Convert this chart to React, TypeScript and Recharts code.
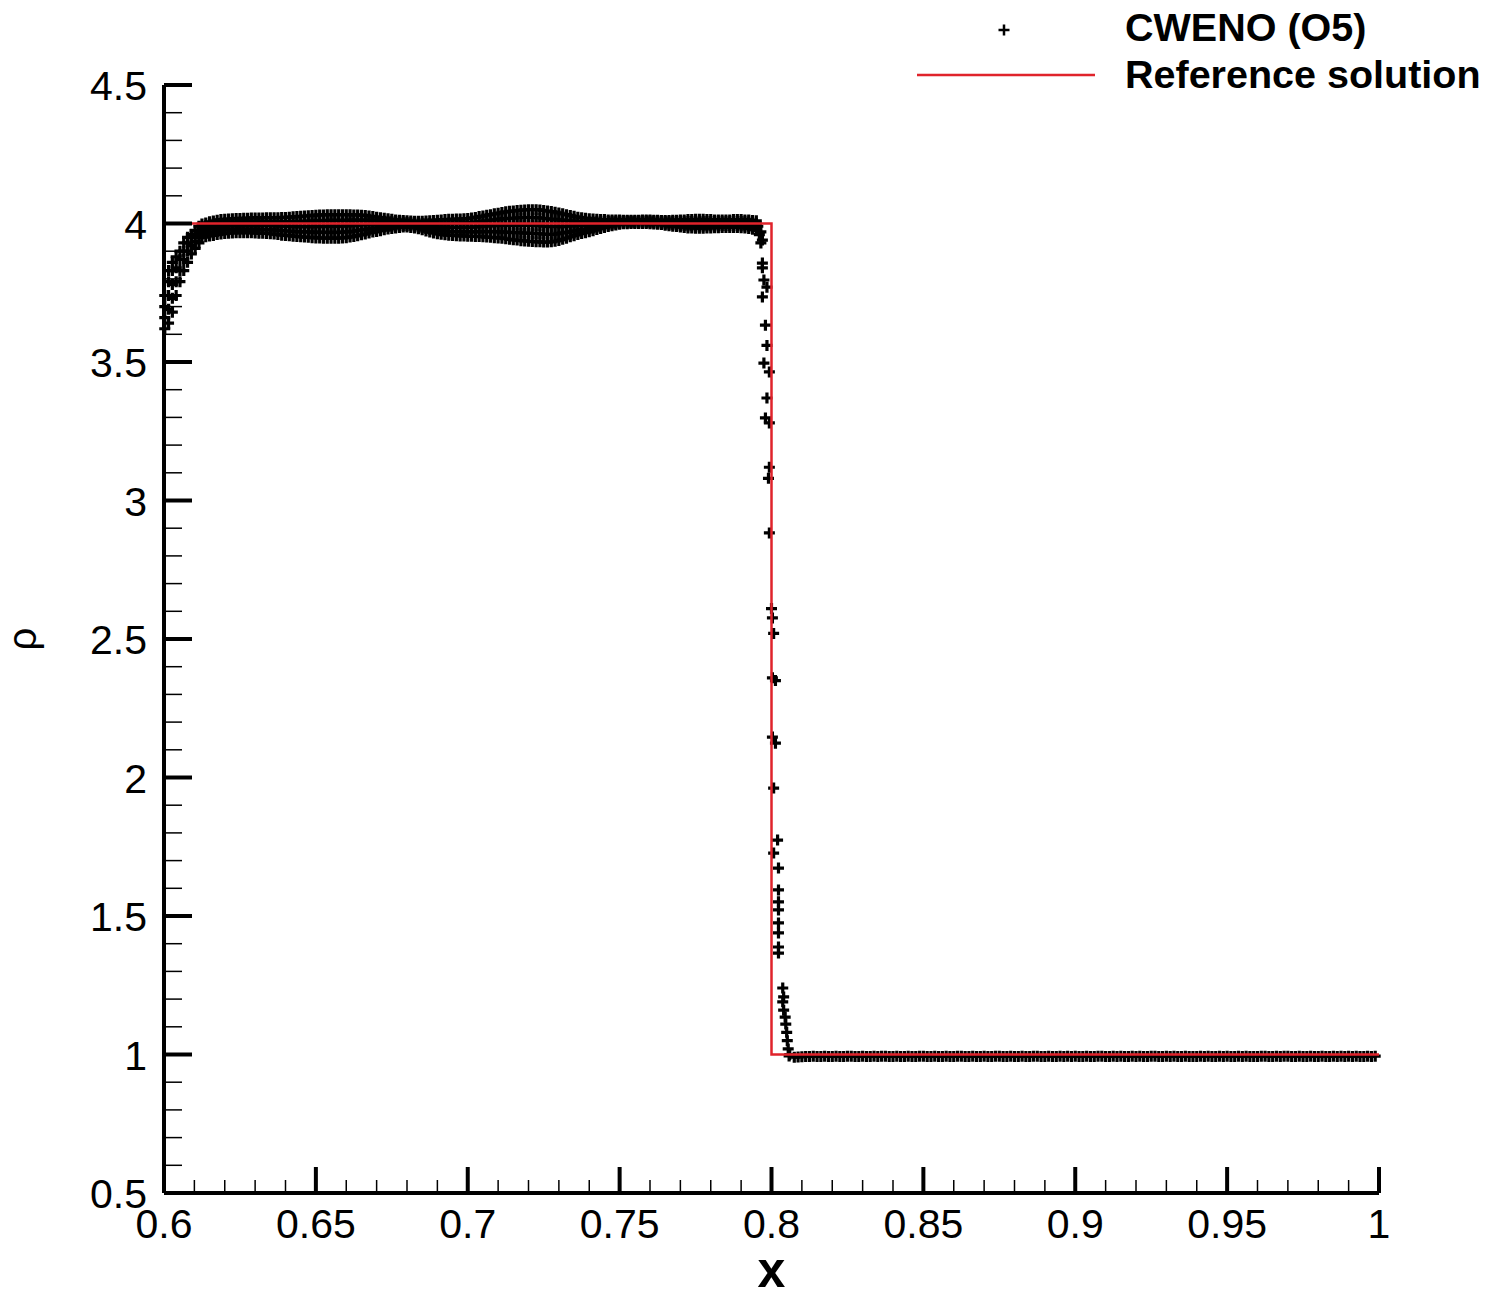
import React from 'react';
import { ScatterChart, Scatter, XAxis, YAxis, Legend } from 'recharts';

const FONT = "'Liberation Sans', Arial, sans-serif";

// axis ticks
const xMajorTicks = [0.6, 0.65, 0.7, 0.75, 0.8, 0.85, 0.9, 0.95, 1];
const xTickLabels = ['0.6', '0.65', '0.7', '0.75', '0.8', '0.85', '0.9', '0.95', '1'];
const xMinorTicks = [
  0.61, 0.62, 0.63, 0.64, 0.66, 0.67, 0.68, 0.69, 0.71, 0.72, 0.73, 0.74, 0.76, 0.77, 0.78, 0.79,
  0.81, 0.82, 0.83, 0.84, 0.86, 0.87, 0.88, 0.89, 0.91, 0.92, 0.93, 0.94, 0.96, 0.97, 0.98, 0.99,
];
const yMajorTicks = [0.5, 1, 1.5, 2, 2.5, 3, 3.5, 4, 4.5];
const yTickLabels = ['0.5', '1', '1.5', '2', '2.5', '3', '3.5', '4', '4.5'];
const yMinorTicks = [
  0.6, 0.7, 0.8, 0.9, 1.1, 1.2, 1.3, 1.4, 1.6, 1.7, 1.8, 1.9, 2.1, 2.2, 2.3, 2.4,
  2.6, 2.7, 2.8, 2.9, 3.1, 3.2, 3.3, 3.4, 3.6, 3.7, 3.8, 3.9, 4.1, 4.2, 4.3, 4.4,
];

// reference solution
const refX = [0.6, 0.8, 0.8, 1];
const refRho = [4, 4, 1, 1];

// CWENO: steep rise at the left boundary
const riseX = [
  0.60025, 0.60025, 0.60025, 0.60025,
  0.6015, 0.6015, 0.6015, 0.6015, 0.6015,
  0.60275, 0.60275, 0.60275, 0.60275, 0.60275,
  0.604, 0.604, 0.604, 0.604,
  0.60525, 0.60525, 0.60525, 0.60525,
  0.6065, 0.6065, 0.6065, 0.6065,
  0.60775, 0.60775, 0.60775, 0.60775,
  0.609, 0.609, 0.609, 0.609,
  0.61025, 0.61025, 0.61025, 0.61025,
  0.6115, 0.6115, 0.6115, 0.6115,
];
const riseRho = [
  3.62, 3.66, 3.70, 3.74,
  3.64, 3.69, 3.74, 3.79, 3.83,
  3.68, 3.73, 3.78, 3.83, 3.86,
  3.74, 3.79, 3.84, 3.88,
  3.79, 3.83, 3.87, 3.90,
  3.83, 3.87, 3.90, 3.93,
  3.86, 3.90, 3.93, 3.95,
  3.89, 3.92, 3.95, 3.96,
  3.91, 3.935, 3.955, 3.975,
  3.93, 3.95, 3.97, 3.99,
];

// CWENO: oscillating plateau, five rows from the top to the bottom of the band
const plateauX = [
  0.6125, 0.61375, 0.615, 0.61625, 0.6175, 0.61875,
  0.62, 0.62125, 0.6225, 0.62375, 0.625, 0.62625, 0.6275, 0.62875,
  0.63, 0.63125, 0.6325, 0.63375, 0.635, 0.63625, 0.6375, 0.63875,
  0.64, 0.64125, 0.6425, 0.64375, 0.645, 0.64625, 0.6475, 0.64875,
  0.65, 0.65125, 0.6525, 0.65375, 0.655, 0.65625, 0.6575, 0.65875,
  0.66, 0.66125, 0.6625, 0.66375, 0.665, 0.66625, 0.6675, 0.66875,
  0.67, 0.67125, 0.6725, 0.67375, 0.675, 0.67625, 0.6775, 0.67875,
  0.68, 0.68125, 0.6825, 0.68375, 0.685, 0.68625, 0.6875, 0.68875,
  0.69, 0.69125, 0.6925, 0.69375, 0.695, 0.69625, 0.6975, 0.69875,
  0.7, 0.70125, 0.7025, 0.70375, 0.705, 0.70625, 0.7075, 0.70875,
  0.71, 0.71125, 0.7125, 0.71375, 0.715, 0.71625, 0.7175, 0.71875,
  0.72, 0.72125, 0.7225, 0.72375, 0.725, 0.72625, 0.7275, 0.72875,
  0.73, 0.73125, 0.7325, 0.73375, 0.735, 0.73625, 0.7375, 0.73875,
  0.74, 0.74125, 0.7425, 0.74375, 0.745, 0.74625, 0.7475, 0.74875,
  0.75, 0.75125, 0.7525, 0.75375, 0.755, 0.75625, 0.7575, 0.75875,
  0.76, 0.76125, 0.7625, 0.76375, 0.765, 0.76625, 0.7675, 0.76875,
  0.77, 0.77125, 0.7725, 0.77375, 0.775, 0.77625, 0.7775, 0.77875,
  0.78, 0.78125, 0.7825, 0.78375, 0.785, 0.78625, 0.7875, 0.78875,
  0.79, 0.79125, 0.7925, 0.79375, 0.795,
];
const plateauHigh = [
  3.998, 4.002, 4.006, 4.009, 4.012, 4.014,
  4.015, 4.016, 4.017, 4.018, 4.018, 4.019, 4.019, 4.020,
  4.020, 4.020, 4.020, 4.021, 4.021, 4.021, 4.021, 4.022,
  4.022, 4.023, 4.024, 4.025, 4.026, 4.027, 4.028, 4.029,
  4.030, 4.031, 4.031, 4.032, 4.032, 4.032, 4.032, 4.032,
  4.032, 4.032, 4.031, 4.031, 4.030, 4.029, 4.027, 4.025,
  4.023, 4.021, 4.019, 4.017, 4.015, 4.013, 4.012, 4.011,
  4.010, 4.009, 4.008, 4.008, 4.008, 4.009, 4.010, 4.011,
  4.012, 4.013, 4.014, 4.015, 4.015, 4.016, 4.016, 4.017,
  4.018, 4.020, 4.022, 4.025, 4.027, 4.030, 4.032, 4.035,
  4.037, 4.040, 4.042, 4.044, 4.045, 4.047, 4.048, 4.049,
  4.050, 4.050, 4.050, 4.049, 4.047, 4.045, 4.043, 4.041,
  4.038, 4.035, 4.032, 4.029, 4.026, 4.023, 4.021, 4.019,
  4.017, 4.016, 4.015, 4.014, 4.014, 4.013, 4.013, 4.013,
  4.013, 4.012, 4.012, 4.012, 4.012, 4.012, 4.013, 4.013,
  4.013, 4.012, 4.012, 4.011, 4.011, 4.011, 4.012, 4.012,
  4.013, 4.013, 4.014, 4.014, 4.015, 4.015, 4.015, 4.014,
  4.014, 4.013, 4.013, 4.013, 4.013, 4.013, 4.014, 4.014,
  4.014, 4.013, 4.013, 4.011, 4.010,
];
const plateauUpper = [
  3.986, 3.990, 3.993, 3.996, 3.999, 4.001,
  4.002, 4.003, 4.004, 4.005, 4.005, 4.006, 4.006, 4.007,
  4.007, 4.006, 4.006, 4.007, 4.007, 4.006, 4.006, 4.006,
  4.006, 4.006, 4.007, 4.007, 4.008, 4.008, 4.009, 4.009,
  4.010, 4.010, 4.010, 4.011, 4.011, 4.011, 4.011, 4.011,
  4.011, 4.012, 4.012, 4.012, 4.012, 4.012, 4.012, 4.011,
  4.010, 4.009, 4.008, 4.008, 4.007, 4.006, 4.006, 4.005,
  4.004, 4.003, 4.002, 4.001, 4.000, 4.000, 4.000, 4.000,
  4.000, 4.000, 4.000, 4.001, 4.001, 4.001, 4.001, 4.002,
  4.002, 4.004, 4.005, 4.007, 4.008, 4.010, 4.012, 4.013,
  4.015, 4.017, 4.018, 4.019, 4.019, 4.020, 4.021, 4.021,
  4.022, 4.021, 4.021, 4.020, 4.019, 4.017, 4.016, 4.015,
  4.013, 4.012, 4.011, 4.010, 4.009, 4.007, 4.007, 4.006,
  4.005, 4.005, 4.006, 4.006, 4.007, 4.007, 4.008, 4.008,
  4.009, 4.009, 4.009, 4.009, 4.009, 4.009, 4.010, 4.010,
  4.010, 4.009, 4.008, 4.007, 4.007, 4.006, 4.007, 4.006,
  4.007, 4.006, 4.007, 4.007, 4.007, 4.007, 4.007, 4.007,
  4.007, 4.006, 4.006, 4.006, 4.006, 4.006, 4.007, 4.007,
  4.007, 4.006, 4.005, 4.003, 4.001,
];
const plateauMid = [
  3.974, 3.977, 3.981, 3.983, 3.986, 3.988,
  3.990, 3.991, 3.992, 3.993, 3.993, 3.993, 3.993, 3.994,
  3.993, 3.993, 3.993, 3.993, 3.992, 3.992, 3.991, 3.990,
  3.990, 3.990, 3.989, 3.989, 3.989, 3.989, 3.989, 3.989,
  3.989, 3.990, 3.989, 3.990, 3.990, 3.990, 3.990, 3.990,
  3.991, 3.992, 3.992, 3.994, 3.995, 3.996, 3.997, 3.997,
  3.997, 3.998, 3.998, 3.999, 3.999, 3.999, 3.999, 3.999,
  3.999, 3.998, 3.996, 3.995, 3.993, 3.991, 3.990, 3.989,
  3.988, 3.987, 3.987, 3.987, 3.986, 3.986, 3.986, 3.986,
  3.986, 3.987, 3.988, 3.989, 3.990, 3.991, 3.991, 3.992,
  3.993, 3.994, 3.994, 3.994, 3.993, 3.994, 3.993, 3.993,
  3.993, 3.993, 3.992, 3.992, 3.990, 3.989, 3.989, 3.989,
  3.989, 3.989, 3.990, 3.991, 3.991, 3.992, 3.993, 3.993,
  3.994, 3.995, 3.997, 3.998, 4.000, 4.001, 4.003, 4.004,
  4.005, 4.006, 4.006, 4.006, 4.006, 4.006, 4.007, 4.007,
  4.006, 4.005, 4.005, 4.004, 4.003, 4.002, 4.001, 4.001,
  4.000, 4.000, 3.999, 3.999, 3.999, 3.999, 3.999, 3.999,
  3.999, 3.999, 3.999, 4.000, 4.000, 4.000, 4.000, 4.000,
  4.000, 3.999, 3.998, 3.995, 3.993,
];
const plateauLower = [
  3.962, 3.965, 3.968, 3.970, 3.973, 3.975,
  3.977, 3.978, 3.979, 3.980, 3.980, 3.980, 3.980, 3.980,
  3.980, 3.979, 3.979, 3.978, 3.977, 3.977, 3.975, 3.974,
  3.973, 3.973, 3.971, 3.971, 3.970, 3.970, 3.970, 3.969,
  3.968, 3.969, 3.968, 3.968, 3.968, 3.968, 3.968, 3.969,
  3.970, 3.971, 3.972, 3.975, 3.977, 3.979, 3.981, 3.983,
  3.984, 3.986, 3.988, 3.989, 3.990, 3.991, 3.993, 3.993,
  3.993, 3.992, 3.990, 3.988, 3.985, 3.982, 3.979, 3.977,
  3.975, 3.974, 3.973, 3.972, 3.971, 3.971, 3.970, 3.970,
  3.970, 3.970, 3.970, 3.971, 3.971, 3.971, 3.971, 3.971,
  3.970, 3.970, 3.969, 3.968, 3.967, 3.967, 3.966, 3.965,
  3.965, 3.964, 3.963, 3.963, 3.962, 3.961, 3.961, 3.962,
  3.964, 3.966, 3.968, 3.971, 3.973, 3.976, 3.978, 3.980,
  3.982, 3.984, 3.987, 3.990, 3.993, 3.995, 3.997, 3.999,
  4.001, 4.002, 4.002, 4.003, 4.003, 4.003, 4.003, 4.003,
  4.003, 4.002, 4.001, 4.000, 3.998, 3.997, 3.996, 3.995,
  3.994, 3.993, 3.992, 3.992, 3.991, 3.991, 3.991, 3.992,
  3.992, 3.992, 3.992, 3.993, 3.993, 3.993, 3.993, 3.993,
  3.992, 3.991, 3.990, 3.987, 3.984,
];
const plateauLow = [
  3.950, 3.952, 3.955, 3.957, 3.960, 3.962,
  3.964, 3.965, 3.966, 3.967, 3.967, 3.967, 3.967, 3.967,
  3.966, 3.965, 3.965, 3.964, 3.963, 3.962, 3.960, 3.958,
  3.957, 3.956, 3.954, 3.953, 3.952, 3.951, 3.950, 3.949,
  3.948, 3.948, 3.947, 3.947, 3.947, 3.947, 3.947, 3.948,
  3.949, 3.951, 3.953, 3.956, 3.959, 3.962, 3.966, 3.969,
  3.971, 3.974, 3.977, 3.980, 3.982, 3.984, 3.986, 3.987,
  3.987, 3.986, 3.984, 3.981, 3.977, 3.973, 3.969, 3.966,
  3.963, 3.961, 3.959, 3.958, 3.957, 3.956, 3.955, 3.955,
  3.954, 3.954, 3.953, 3.953, 3.952, 3.951, 3.950, 3.949,
  3.948, 3.947, 3.945, 3.943, 3.941, 3.940, 3.938, 3.937,
  3.936, 3.935, 3.934, 3.934, 3.933, 3.933, 3.934, 3.936,
  3.939, 3.943, 3.947, 3.952, 3.956, 3.960, 3.964, 3.967,
  3.970, 3.974, 3.978, 3.982, 3.986, 3.989, 3.992, 3.995,
  3.997, 3.999, 3.999, 4.000, 4.000, 4.000, 4.000, 4.000,
  3.999, 3.998, 3.997, 3.996, 3.994, 3.992, 3.990, 3.989,
  3.987, 3.986, 3.984, 3.984, 3.983, 3.983, 3.983, 3.984,
  3.984, 3.985, 3.985, 3.986, 3.986, 3.986, 3.986, 3.986,
  3.985, 3.984, 3.982, 3.979, 3.975,
];

// CWENO: points across the shock
const shockX = [
  0.7955, 0.796, 0.7965, 0.797, 0.7965, 0.797, 0.797, 0.7975, 0.7985, 0.797,
  0.798, 0.7985, 0.7975, 0.7993, 0.7985, 0.798, 0.7993, 0.7993, 0.799, 0.7993,
  0.8, 0.8003, 0.8007, 0.8003, 0.8013, 0.8003, 0.8013, 0.8007, 0.802, 0.8007,
  0.8023, 0.8023, 0.8023, 0.8023, 0.8023, 0.8023, 0.8023, 0.8023,
  0.8037, 0.804, 0.8037, 0.804, 0.8045, 0.8047, 0.805, 0.8052, 0.8055, 0.806, 0.8058,
];
const shockRho = [
  3.99, 3.96, 3.93, 3.94, 3.97, 3.857, 3.84, 3.796, 3.77, 3.735,
  3.633, 3.56, 3.496, 3.464, 3.37, 3.298, 3.28, 3.12, 3.08, 2.883,
  2.61, 2.576, 2.52, 2.36, 2.35, 2.146, 2.124, 1.962, 1.774, 1.727,
  1.673, 1.594, 1.551, 1.522, 1.475, 1.439, 1.388, 1.366,
  1.24, 1.208, 1.19, 1.16, 1.135, 1.11, 1.08, 1.05, 1.02, 1.0, 0.995,
];

// CWENO: pre-shock state
const tailX = [
  0.8075, 0.80875,
  0.81, 0.81125, 0.8125, 0.81375, 0.815, 0.81625, 0.8175, 0.81875,
  0.82, 0.82125, 0.8225, 0.82375, 0.825, 0.82625, 0.8275, 0.82875,
  0.83, 0.83125, 0.8325, 0.83375, 0.835, 0.83625, 0.8375, 0.83875,
  0.84, 0.84125, 0.8425, 0.84375, 0.845, 0.84625, 0.8475, 0.84875,
  0.85, 0.85125, 0.8525, 0.85375, 0.855, 0.85625, 0.8575, 0.85875,
  0.86, 0.86125, 0.8625, 0.86375, 0.865, 0.86625, 0.8675, 0.86875,
  0.87, 0.87125, 0.8725, 0.87375, 0.875, 0.87625, 0.8775, 0.87875,
  0.88, 0.88125, 0.8825, 0.88375, 0.885, 0.88625, 0.8875, 0.88875,
  0.89, 0.89125, 0.8925, 0.89375, 0.895, 0.89625, 0.8975, 0.89875,
  0.9, 0.90125, 0.9025, 0.90375, 0.905, 0.90625, 0.9075, 0.90875,
  0.91, 0.91125, 0.9125, 0.91375, 0.915, 0.91625, 0.9175, 0.91875,
  0.92, 0.92125, 0.9225, 0.92375, 0.925, 0.92625, 0.9275, 0.92875,
  0.93, 0.93125, 0.9325, 0.93375, 0.935, 0.93625, 0.9375, 0.93875,
  0.94, 0.94125, 0.9425, 0.94375, 0.945, 0.94625, 0.9475, 0.94875,
  0.95, 0.95125, 0.9525, 0.95375, 0.955, 0.95625, 0.9575, 0.95875,
  0.96, 0.96125, 0.9625, 0.96375, 0.965, 0.96625, 0.9675, 0.96875,
  0.97, 0.97125, 0.9725, 0.97375, 0.975, 0.97625, 0.9775, 0.97875,
  0.98, 0.98125, 0.9825, 0.98375, 0.985, 0.98625, 0.9875, 0.98875,
  0.99, 0.99125, 0.9925, 0.99375, 0.995, 0.99625, 0.9975, 0.99875,
];
const tailRho = [
  0.990, 0.991,
  0.992, 0.993, 0.993, 0.994, 0.993, 0.993, 0.994, 0.993,
  0.993, 0.994, 0.993, 0.993, 0.994, 0.994, 0.993, 0.993,
  0.994, 0.993, 0.993, 0.994, 0.993, 0.994, 0.994, 0.993,
  0.993, 0.994, 0.993, 0.993, 0.994, 0.993, 0.993, 0.994,
  0.994, 0.993, 0.993, 0.994, 0.993, 0.993, 0.994, 0.993,
  0.993, 0.994, 0.994, 0.993, 0.993, 0.994, 0.993, 0.993,
  0.994, 0.993, 0.993, 0.994, 0.994, 0.993, 0.993, 0.994,
  0.993, 0.993, 0.994, 0.993, 0.993, 0.994, 0.994, 0.993,
  0.993, 0.994, 0.993, 0.993, 0.994, 0.993, 0.994, 0.993,
  0.994, 0.993, 0.993, 0.994, 0.993, 0.993, 0.994, 0.994,
  0.993, 0.993, 0.994, 0.993, 0.994, 0.993, 0.993, 0.994,
  0.993, 0.994, 0.993, 0.993, 0.994, 0.994, 0.993, 0.993,
  0.994, 0.993, 0.994, 0.993, 0.993, 0.994, 0.993, 0.993,
  0.993, 0.994, 0.993, 0.994, 0.993, 0.993, 0.994, 0.993,
  0.994, 0.993, 0.993, 0.994, 0.993, 0.994, 0.993, 0.993,
  0.993, 0.994, 0.994, 0.993, 0.993, 0.994, 0.993, 0.994,
  0.994, 0.993, 0.993, 0.994, 0.993, 0.993, 0.994, 0.993,
  0.993, 0.994, 0.993, 0.993, 0.994, 0.993, 0.994, 0.993,
  0.994, 0.993, 0.994, 0.993, 0.993, 0.994, 0.993, 0.994,
];

const pair = (xs: number[], ys: number[]) => xs.map((x, i) => ({ x, rho: ys[i] }));

const cwenoData = [
  ...pair(riseX, riseRho),
  ...pair(plateauX, plateauHigh),
  ...pair(plateauX, plateauUpper),
  ...pair(plateauX, plateauMid),
  ...pair(plateauX, plateauLower),
  ...pair(plateauX, plateauLow),
  ...pair(shockX, shockRho),
  ...pair(tailX, tailRho),
];
const refData = pair(refX, refRho);

const xTicks = [...xMajorTicks, ...xMinorTicks].sort((a, b) => a - b);
const yTicks = [...yMajorTicks, ...yMinorTicks].sort((a, b) => a - b);

function PlusMark(props: any) {
  const { cx, cy } = props;
  return (
    <path
      d={`M${cx - 5.5},${cy}H${cx + 5.5}M${cx},${cy - 5.5}V${cy + 5.5}`}
      stroke="#000"
      strokeWidth={3.2}
      fill="none"
    />
  );
}

function XTick(props: any) {
  const { x, y, payload } = props;
  const i = xMajorTicks.indexOf(payload.value);
  if (i < 0) {
    return <line x1={x} y1={y} x2={x} y2={y - 13} stroke="#000" strokeWidth={1.5} />;
  }
  return (
    <g>
      <line x1={x} y1={y} x2={x} y2={y - 26} stroke="#000" strokeWidth={4} />
      <text x={x} y={y + 45} textAnchor="middle" fontSize={41} fontFamily={FONT} fill="#000">
        {xTickLabels[i]}
      </text>
    </g>
  );
}

function YTick(props: any) {
  const { x, y, payload } = props;
  const i = yMajorTicks.indexOf(payload.value);
  if (i < 0) {
    return <line x1={x} y1={y} x2={x + 18} y2={y} stroke="#000" strokeWidth={1.5} />;
  }
  return (
    <g>
      <line x1={x} y1={y} x2={x + 28} y2={y} stroke="#000" strokeWidth={4} />
      <text x={x - 17} y={y} dy={15} textAnchor="end" fontSize={41} fontFamily={FONT} fill="#000">
        {yTickLabels[i]}
      </text>
    </g>
  );
}

function RhoLabel(props: any) {
  const vb = props.viewBox || { x: 14, y: 85, width: 150, height: 1108 };
  const cx = vb.x + 22;
  const cy = vb.y + vb.height / 2;
  return (
    <text
      x={cx}
      y={cy}
      transform={`rotate(-90 ${cx} ${cy})`}
      textAnchor="middle"
      fontSize={40}
      fontFamily={FONT}
      fill="#000"
    >
      ρ
    </text>
  );
}

function LegendBox() {
  return (
    <svg width={602} height={110} style={{ display: 'block' }}>
      <path d="M98.5,30H109.5M104,24.5V35.5" stroke="#000" strokeWidth={2.5} />
      <line x1={17} y1={75} x2={195} y2={75} stroke="#e0232b" strokeWidth={2.5} />
      <text x={225} y={41} fontSize={39.5} fontWeight="bold" fontFamily={FONT} fill="#000">
        CWENO (O5)
      </text>
      <text x={225} y={88} fontSize={39.5} fontWeight="bold" fontFamily={FONT} fill="#000">
        Reference solution
      </text>
    </svg>
  );
}

export default function App() {
  return (
    <div style={{ position: 'absolute', left: 0, top: 0, background: '#fff' }}>
      <ScatterChart width={1502} height={1295} margin={{ top: 85, right: 123, bottom: 2, left: 14 }}>
        <XAxis
          type="number"
          dataKey="x"
          domain={[0.6, 1]}
          ticks={xTicks}
          interval={0}
          tickSize={0}
          tickMargin={0}
          tickLine={false}
          tick={<XTick />}
          height={100}
          axisLine={{ stroke: '#000', strokeWidth: 4 }}
          label={{
            value: 'x',
            position: 'insideBottom',
            offset: 6,
            fontSize: 50,
            fontWeight: 'bold',
            fontFamily: FONT,
            fill: '#000',
          }}
        />
        <YAxis
          type="number"
          dataKey="rho"
          domain={[0.5, 4.5]}
          ticks={yTicks}
          interval={0}
          tickSize={0}
          tickMargin={0}
          tickLine={false}
          tick={<YTick />}
          width={150}
          axisLine={{ stroke: '#000', strokeWidth: 4 }}
          label={{ content: RhoLabel }}
        />
        <Legend
          layout="vertical"
          align="center"
          verticalAlign="middle"
          wrapperStyle={{ top: 0, left: 900, width: 602, height: 110 }}
          content={() => <LegendBox />}
        />
        <Scatter
          name="CWENO (O5)"
          data={cwenoData}
          shape={PlusMark}
          isAnimationActive={false}
        />
        <Scatter
          name="Reference solution"
          data={refData}
          shape={() => <g />}
          line={{ stroke: '#e0232b', strokeWidth: 2.5 }}
          isAnimationActive={false}
        />
      </ScatterChart>
    </div>
  );
}
